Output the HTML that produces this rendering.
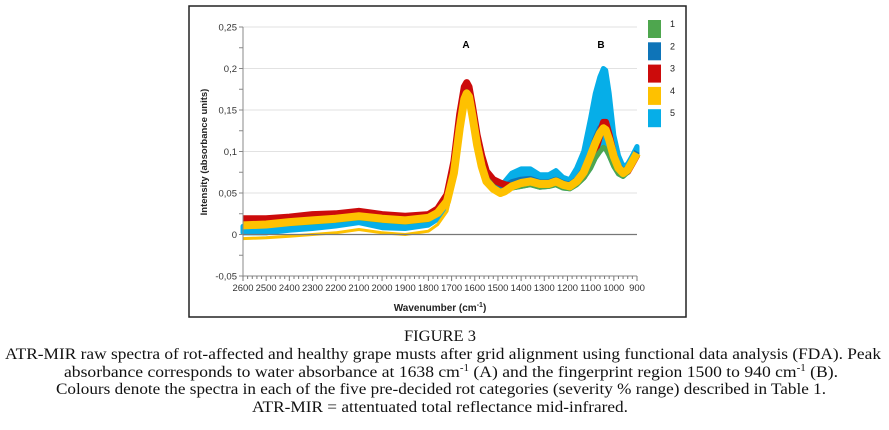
<!DOCTYPE html>
<html><head><meta charset="utf-8"><style>
html,body{margin:0;padding:0;background:#fff;}
svg{display:block;}
</style></head><body>
<svg id="fig" width="889" height="430" viewBox="0 0 889 430" xmlns="http://www.w3.org/2000/svg">
<rect x="189" y="6" width="497" height="311" fill="#fff" stroke="#222" stroke-width="1.5"/>
<g id="grid"></g>
<g id="series"></g>
<g id="axes"></g>
<text x="466" y="48" font-family="Liberation Sans, sans-serif" font-size="10" font-weight="bold" text-anchor="middle">A</text>
<text x="601" y="48" font-family="Liberation Sans, sans-serif" font-size="10" font-weight="bold" text-anchor="middle">B</text>
<text transform="translate(207,152) rotate(-90)" font-family="Liberation Sans, sans-serif" font-size="9.5" font-weight="bold" text-anchor="middle" fill="#222">Intensity (absorbance units)</text>
<text x="440" y="311" font-family="Liberation Sans, sans-serif" font-size="10" font-weight="bold" text-anchor="middle" fill="#222">Wavenumber (cm<tspan font-size="7" dy="-4">-1</tspan><tspan dy="4">)</tspan></text>
<g id="legend"></g>
<g font-family="Liberation Serif, serif" font-size="16" fill="#111">
<text x="404" y="341" textLength="72" lengthAdjust="spacingAndGlyphs">FIGURE 3</text>
<text x="5" y="359" textLength="876" lengthAdjust="spacingAndGlyphs">ATR-MIR raw spectra of rot-affected and healthy grape musts after grid alignment using functional data analysis (FDA). Peak</text>
<text x="64" y="377" textLength="774" lengthAdjust="spacingAndGlyphs">absorbance corresponds to water absorbance at 1638 cm<tspan font-size="10" dy="-6">-1</tspan><tspan dy="6"> (A) and the fingerprint region 1500 to 940 cm</tspan><tspan font-size="10" dy="-6">-1</tspan><tspan dy="6"> (B).</tspan></text>
<text x="56" y="394" textLength="770" lengthAdjust="spacingAndGlyphs">Colours denote the spectra in each of the five pre-decided rot categories (severity % range) described in Table 1.</text>
<text x="252" y="412" textLength="376" lengthAdjust="spacingAndGlyphs">ATR-MIR = attentuated total reflectance mid-infrared.</text>
</g>
</svg>
<script>
const wavenumbers=[2600,2500,2400,2300,2200,2100,2000,1900,1800,1760,1720,1690,1665,1645,1635,1625,1610,1590,1570,1550,1520,1490,1470,1440,1400,1360,1320,1280,1250,1220,1190,1160,1130,1100,1080,1060,1045,1035,1020,1000,980,960,940,920,900];
const cat1=[0.010,0.011,0.013,0.015,0.017,0.020,0.017,0.015,0.018,0.025,0.040,0.075,0.130,0.165,0.172,0.168,0.145,0.110,0.085,0.068,0.058,0.052,0.052,0.056,0.058,0.060,0.057,0.058,0.060,0.056,0.055,0.060,0.068,0.080,0.092,0.100,0.105,0.103,0.095,0.082,0.073,0.070,0.075,0.085,0.095];
const cat2=[0.013,0.014,0.016,0.018,0.020,0.023,0.020,0.018,0.021,0.028,0.044,0.080,0.135,0.170,0.176,0.172,0.150,0.115,0.090,0.072,0.062,0.057,0.058,0.063,0.066,0.067,0.063,0.063,0.066,0.062,0.060,0.066,0.078,0.098,0.115,0.128,0.133,0.130,0.118,0.098,0.083,0.076,0.080,0.090,0.100];
const cat3=[0.019,0.019,0.021,0.024,0.025,0.028,0.024,0.022,0.024,0.031,0.048,0.088,0.145,0.178,0.183,0.178,0.155,0.120,0.095,0.076,0.066,0.062,0.060,0.058,0.060,0.062,0.059,0.060,0.063,0.060,0.058,0.062,0.070,0.085,0.100,0.120,0.135,0.135,0.120,0.095,0.080,0.073,0.076,0.086,0.096];
const cat4=[0.011,0.012,0.015,0.017,0.019,0.022,0.019,0.017,0.020,0.026,0.040,0.074,0.128,0.163,0.170,0.166,0.143,0.108,0.082,0.064,0.055,0.050,0.052,0.058,0.062,0.064,0.061,0.061,0.064,0.060,0.058,0.064,0.075,0.095,0.110,0.122,0.128,0.126,0.114,0.094,0.080,0.074,0.078,0.088,0.098];
const cat4Low=[-0.005,-0.004,-0.002,0.000,0.002,0.006,0.002,0.000,0.004,0.012,0.028,0.065,0.120,0.156,0.163,0.160,0.138,0.104,0.079,0.061,0.052,0.047,0.049,0.055,0.059,0.061,0.058,0.058,0.061,0.057,0.055,0.061,0.072,0.092,0.106,0.118,0.124,0.122,0.110,0.091,0.077,0.071,0.075,0.085,0.095];
const cat5=[0.002,0.002,0.006,0.009,0.012,0.016,0.010,0.009,0.013,0.020,0.034,0.068,0.120,0.155,0.162,0.158,0.140,0.108,0.085,0.068,0.060,0.058,0.064,0.074,0.079,0.079,0.072,0.072,0.077,0.069,0.066,0.080,0.100,0.140,0.170,0.190,0.200,0.198,0.170,0.120,0.095,0.082,0.085,0.095,0.106];
const cat5Low=[0.001,0.001,0.004,0.006,0.009,0.013,0.007,0.006,0.010,0.017,0.031,0.064,0.115,0.150,0.158,0.154,0.136,0.104,0.081,0.064,0.056,0.054,0.058,0.066,0.070,0.070,0.066,0.066,0.070,0.064,0.062,0.072,0.088,0.120,0.148,0.165,0.175,0.172,0.150,0.110,0.088,0.078,0.082,0.092,0.102];
const yTicks=[-0.05,0,0.05,0.1,0.15,0.2,0.25];
const yTickLabels=["-0,05","0","0,05","0,1","0,15","0,2","0,25"];
const xTicks=[2600,2500,2400,2300,2200,2100,2000,1900,1800,1700,1600,1500,1400,1300,1200,1100,1000,900];
const legendLabels=["1","2","3","4","5"];
const legendColors=["#4ea64e","#0e74b8","#cc0b0b","#fec100","#06aee8"];

const NS="http://www.w3.org/2000/svg";
const X0=243,X1=637,Y0=276,Y1=27;
const xs=w=>X0+(2600-w)/(2600-900)*(X1-X0);
const ys=v=>Y0-(v-(-0.05))/(0.3)*(Y0-Y1);
function mk(tag,attrs,parent){const e=document.createElementNS(NS,tag);for(const k in attrs)e.setAttribute(k,attrs[k]);parent.appendChild(e);return e;}
const grid=document.getElementById('grid'),axes=document.getElementById('axes'),ser=document.getElementById('series'),leg=document.getElementById('legend');
yTicks.forEach((t,i)=>{
  if(t!==0&&t!==-0.05){const g=mk('line',{x1:X0,x2:X1,y1:ys(t),y2:ys(t),stroke:'#e2e2e2','stroke-width':1},grid);
  
  }
  const tx=mk('text',{x:X0-6,y:ys(t)+3.5,'text-anchor':'end','font-family':'Liberation Sans, sans-serif','font-size':9.5,fill:'#333'},axes);
  tx.textContent=yTickLabels[i];
  
  
});
for(let v=-0.05;v<=0.2501;v+=0.025){mk('line',{x1:X0-4,x2:X0,y1:ys(v),y2:ys(v),stroke:'#888'},axes);}
mk('line',{x1:X0,x2:X0,y1:Y1,y2:Y0,stroke:'#888'},axes);
mk('line',{x1:X0,x2:X1,y1:Y0,y2:Y0,stroke:'#888'},axes);
for(let w=2600;w>=900;w-=20){mk('line',{x1:xs(w),x2:xs(w),y1:Y0,y2:Y0+(w%100===0?5:3),stroke:'#777'},axes);}
xTicks.forEach(t=>{const tx=mk('text',{x:xs(t),y:Y0+15,'text-anchor':'middle','font-family':'Liberation Sans, sans-serif','font-size':9.5,fill:'#333',textLength:21,lengthAdjust:'spacingAndGlyphs'},axes);
  if(t<1000)tx.removeAttribute('textLength');
  tx.textContent=String(t);
  
  });
const pathOf=arr=>arr.map((v,i)=>(i?'L':'M')+xs(wavenumbers[i]).toFixed(1)+','+ys(v).toFixed(1)).join(' ');
// light-blue envelope band between category 5 and category 1
const bandD=pathOf(cat5)+' '+cat1.map((v,i)=>'L'+xs(wavenumbers[i]).toFixed(1)+','+ys(v).toFixed(1)).reverse().join(' ')+' Z';
const band=mk('path',{d:bandD,fill:legendColors[4],stroke:legendColors[4],'stroke-width':5,'stroke-linejoin':'round'},ser);


const series=[[cat5Low,legendColors[4],3,'series-5-low'],[cat2,legendColors[1],6,'series-2'],[cat3,legendColors[2],7,'series-3'],[cat1,legendColors[0],5,'series-1'],[cat4,legendColors[3],8,'series-4'],[cat4Low,legendColors[3],3,'series-4-low']];
series.forEach(s=>{
  const p=mk('path',{d:pathOf(s[0]),fill:'none',stroke:s[1],'stroke-width':s[2],'stroke-linejoin':'round'},ser);
  
  
});
const z=mk('line',{x1:X0,x2:X1,y1:ys(0),y2:ys(0),stroke:'#777','stroke-width':1.3},axes);


legendLabels.forEach((l,i)=>{
  const r=mk('rect',{x:648,y:20+i*22.3,width:13,height:18,fill:legendColors[i]},leg);
  
  
  const t=mk('text',{x:670,y:27+i*22.3,'font-family':'Liberation Sans, sans-serif','font-size':9,fill:'#222'},leg);
  t.textContent=l;
  
  
});
</script>
</body></html>
